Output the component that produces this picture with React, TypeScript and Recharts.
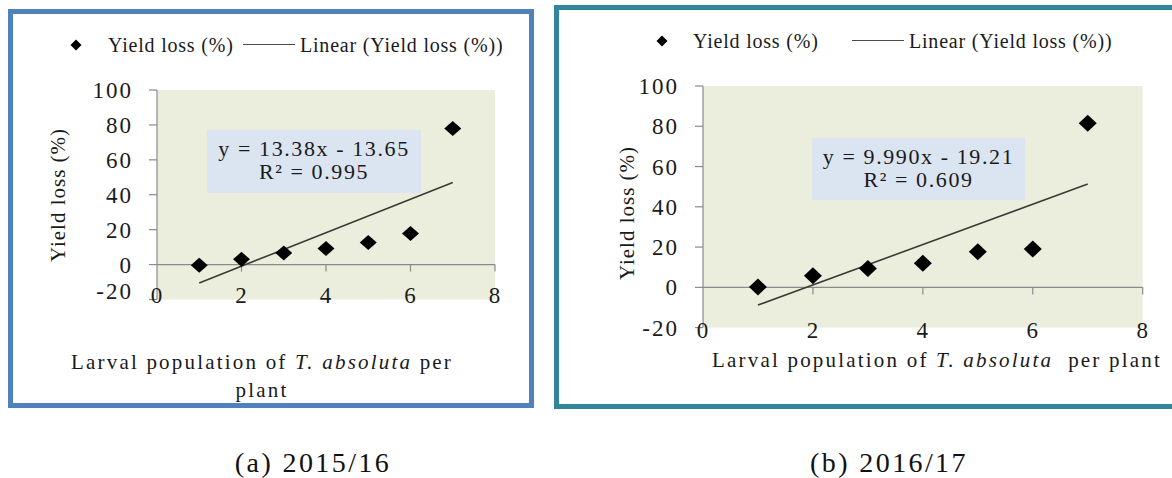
import React from "react";
import {
  ComposedChart,
  Scatter,
  Line,
  XAxis,
  YAxis,
  CartesianGrid,
  ReferenceLine,
} from "recharts";

// larval population per plant (x) and yield loss (%)
const X_VALUES = [1, 2, 3, 4, 5, 6, 7];
const LOSS_2015 = [-0.4, 3.0, 6.7, 9.2, 12.6, 17.8, 78.0];
const LOSS_2016 = [0.2, 5.8, 9.3, 11.9, 17.7, 19.0, 81.5];

// end points of the drawn trend lines
const TREND_X = [1, 7];
const TREND_2015 = [-10.5, 47.0];
const TREND_2016 = [-8.8, 51.3];

const X_TICKS = [0, 2, 4, 6, 8];
const Y_TICKS = [-20, 0, 20, 40, 60, 80, 100];

const EQ_2015 = ["y = 13.38x - 13.65", "R\u00b2 = 0.995"];
const EQ_2016 = ["y = 9.990x - 19.21", "R\u00b2 = 0.609"];

const SERIES_NAME = "Yield loss (%)";
const TREND_NAME = "Linear (Yield loss (%))";
const Y_TITLE = "Yield loss (%)";
const CAPTIONS = ["(a) 2015/16", "(b) 2016/17"];

const FONT = '"Times New Roman", "Liberation Serif", Tinos, serif';
const PLOT_BG = "#ebeedc";
const AXIS = "#8a8a8a";
const TEXT = "#1a1a1a";

function XTick(props: any) {
  const { x, y, payload, shift } = props;
  return (
    <text
      x={x}
      y={y + shift}
      dy="0.35em"
      textAnchor="middle"
      fill={TEXT}
      style={{ fontFamily: FONT, fontSize: 23, letterSpacing: 1 }}
    >
      {payload.value}
    </text>
  );
}

function YTick(props: any) {
  const { x, y, payload, lowShift } = props;
  const dy = payload.value === -20 ? lowShift : 0;
  return (
    <text
      x={x}
      y={y + dy}
      dy="0.35em"
      textAnchor="end"
      fill={TEXT}
      style={{ fontFamily: FONT, fontSize: 23, letterSpacing: 2 }}
    >
      {payload.value}
    </text>
  );
}

function LegendDiamond({ left, top }: { left: number; top: number }) {
  return (
    <svg
      width={12}
      height={12}
      style={{ position: "absolute", left: left - 6, top: top - 6 }}
    >
      <polygon points="6,0.5 11.5,6 6,11.5 0.5,6" fill="#000" />
    </svg>
  );
}

type PanelProps = {
  left: number;
  width: number;
  height: number;
  margin: { top: number; right: number; bottom: number; left: number };
  loss: number[];
  trend: number[];
  equation: string[];
  eqBox: { left: number; top: number; width: number; height: number; c1: number; c2: number };
  legend: { diamond: number; text: number; lineFrom: number; lineTo: number; text2: number; y: number };
  xShift: number;
  lowShift: number;
  tickUnits: number;
  marker: { hw: number; hh: number };
  yTitle: { x: number; y: number };
  xTitle: React.ReactNode;
  caption: { text: string; x: number };
};

function Panel(p: PanelProps) {
  const points = X_VALUES.map((x, i) => ({ x, y: p.loss[i] }));
  const trend = TREND_X.map((x, i) => ({ x, y: p.trend[i] }));

  const legendText: React.CSSProperties = {
    position: "absolute",
    top: p.legend.y,
    transform: "translateY(-50%)",
    fontFamily: FONT,
    fontSize: 20,
    letterSpacing: 0.8,
    color: TEXT,
    whiteSpace: "nowrap",
    lineHeight: "22px",
  };

  const eqLine: React.CSSProperties = {
    position: "absolute",
    left: p.eqBox.left + p.eqBox.width / 2,
    transform: "translate(-50%, -50%)",
    fontFamily: FONT,
    fontSize: 22,
    letterSpacing: 1.6,
    lineHeight: "22px",
    color: TEXT,
    whiteSpace: "nowrap",
  };

  return (
    <div
      style={{
        position: "absolute",
        left: p.left,
        top: 0,
        width: p.width,
        height: 478,
      }}
    >
      <ComposedChart width={p.width} height={p.height} margin={p.margin}>
        <CartesianGrid fill={PLOT_BG} horizontal={false} vertical={false} />
        <XAxis
          type="number"
          dataKey="x"
          domain={[0, 8]}
          ticks={X_TICKS}
          interval={0}
          allowDataOverflow
          axisLine={false}
          tickLine={false}
          tickSize={0}
          tickMargin={0}
          height={30}
          tick={(t: any) => <XTick {...t} shift={p.xShift} />}
        />
        <YAxis
          type="number"
          domain={[-20, 100]}
          ticks={Y_TICKS}
          interval={0}
          allowDataOverflow
          width={60}
          axisLine={{ stroke: AXIS, strokeWidth: 1.2 }}
          tickLine={{ stroke: AXIS, strokeWidth: 1.2 }}
          tickSize={8}
          tickMargin={16}
          tick={(t: any) => <YTick {...t} lowShift={p.lowShift} />}
        />
        <ReferenceLine y={0} stroke={AXIS} strokeWidth={1.2} />
        {X_TICKS.filter((t) => t > 0).map((t) => (
          <ReferenceLine
            key={t}
            segment={[
              { x: t, y: 0 },
              { x: t, y: -p.tickUnits },
            ]}
            stroke={AXIS}
            strokeWidth={1.2}
          />
        ))}
        <Line
          data={trend}
          dataKey="y"
          type="linear"
          stroke="#3b3b35"
          strokeWidth={1.6}
          dot={false}
          activeDot={false}
          isAnimationActive={false}
        />
        <Scatter
          data={points}
          dataKey="y"
          isAnimationActive={false}
          shape={(s: any) => (
            <polygon
              points={`${s.cx},${s.cy - p.marker.hh} ${s.cx + p.marker.hw},${s.cy} ${s.cx},${s.cy + p.marker.hh} ${s.cx - p.marker.hw},${s.cy}`}
              fill="#000"
            />
          )}
        />
      </ComposedChart>

      {/* legend */}
      <LegendDiamond left={p.legend.diamond} top={p.legend.y} />
      <div style={{ ...legendText, left: p.legend.text }}>{SERIES_NAME}</div>
      <div
        style={{
          position: "absolute",
          left: p.legend.lineFrom,
          width: p.legend.lineTo - p.legend.lineFrom,
          top: p.legend.y - 1,
          height: 0,
          borderTop: "1.6px solid #4a4a4a",
        }}
      />
      <div style={{ ...legendText, left: p.legend.text2 }}>{TREND_NAME}</div>

      {/* equation box */}
      <div
        style={{
          position: "absolute",
          left: p.eqBox.left,
          top: p.eqBox.top,
          width: p.eqBox.width,
          height: p.eqBox.height,
          background: "#dbe5f1",
        }}
      />
      <div style={{ ...eqLine, top: p.eqBox.c1 }}>{p.equation[0]}</div>
      <div style={{ ...eqLine, top: p.eqBox.c2 }}>{p.equation[1]}</div>

      {/* y axis title */}
      <div
        style={{
          position: "absolute",
          left: p.yTitle.x,
          top: p.yTitle.y,
          transform: "translate(-50%, -50%) rotate(-90deg)",
          fontFamily: FONT,
          fontSize: 21,
          letterSpacing: 1,
          color: TEXT,
          whiteSpace: "nowrap",
          lineHeight: "24px",
        }}
      >
        {Y_TITLE}
      </div>

      {p.xTitle}

      {/* caption */}
      <div
        style={{
          position: "absolute",
          left: p.caption.x,
          top: 463,
          transform: "translate(-50%, -50%)",
          fontFamily: FONT,
          fontSize: 28,
          letterSpacing: 2.4,
          color: "#111",
          whiteSpace: "nowrap",
          lineHeight: "32px",
        }}
      >
        {p.caption.text}
      </div>
    </div>
  );
}

const xTitleStyle: React.CSSProperties = {
  position: "absolute",
  transform: "translate(-50%, -50%)",
  fontFamily: FONT,
  fontSize: 21,
  letterSpacing: 2.2,
  color: TEXT,
  whiteSpace: "nowrap",
  lineHeight: "24px",
};

export default function App() {
  return (
    <div
      style={{
        position: "absolute",
        left: 0,
        top: 0,
        width: 1172,
        height: 478,
        background: "#fff",
        overflow: "hidden",
      }}
    >
      {/* frames */}
      <div
        style={{
          position: "absolute",
          left: 8,
          top: 9,
          width: 526,
          height: 399,
          boxSizing: "border-box",
          border: "5px solid #4f81bd",
        }}
      />
      <div
        style={{
          position: "absolute",
          left: 554,
          top: 5,
          width: 640,
          height: 404,
          boxSizing: "border-box",
          border: "5px solid #31859c",
        }}
      />

      <Panel
        left={0}
        width={548}
        height={420}
        margin={{ top: 90, right: 53, bottom: 90.5, left: 97 }}
        loss={LOSS_2015}
        trend={TREND_2015}
        equation={EQ_2015}
        eqBox={{ left: 207, top: 130, width: 214, height: 63, c1: 149, c2: 172 }}
        legend={{ diamond: 76, text: 108, lineFrom: 243, lineTo: 295, text2: 300, y: 45 }}
        xShift={-4.5}
        lowShift={-9}
        tickUnits={4}
        marker={{ hw: 8.5, hh: 7.5 }}
        yTitle={{ x: 58, y: 195 }}
        xTitle={
          <>
            <div style={{ ...xTitleStyle, left: 262, top: 362 }}>
              Larval population of <i>T. absoluta</i> per
            </div>
            <div style={{ ...xTitleStyle, left: 262, top: 390 }}>plant</div>
          </>
        }
        caption={{ text: CAPTIONS[0], x: 313 }}
      />

      <Panel
        left={548}
        width={624}
        height={420}
        margin={{ top: 86, right: 29.3, bottom: 62.4, left: 95 }}
        loss={LOSS_2016}
        trend={TREND_2016}
        equation={EQ_2016}
        eqBox={{ left: 264, top: 138, width: 213, height: 62, c1: 157, c2: 180 }}
        legend={{ diamond: 114, text: 145, lineFrom: 304, lineTo: 356, text2: 361, y: 41 }}
        xShift={2.5}
        lowShift={0}
        tickUnits={3.5}
        marker={{ hw: 9, hh: 8.5 }}
        yTitle={{ x: 79, y: 213 }}
        xTitle={
          <div style={{ ...xTitleStyle, left: 389, top: 360 }}>
            Larval population of <i>T. absoluta</i>&nbsp; per plant
          </div>
        }
        caption={{ text: CAPTIONS[1], x: 341 }}
      />
    </div>
  );
}
